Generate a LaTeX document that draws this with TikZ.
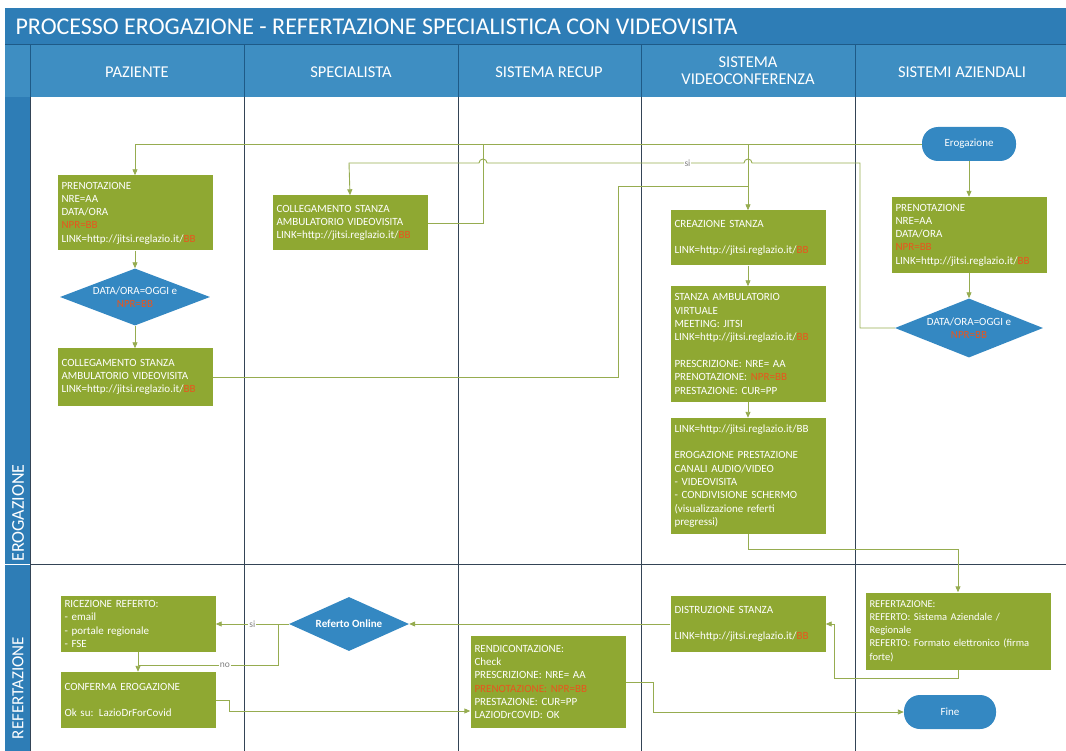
\documentclass[tikz,border=0pt]{standalone}
\usepackage{fontspec}
\setmainfont{Carlito}
\usetikzlibrary{positioning,calc,shapes.geometric,arrows.meta}

\definecolor{titleblue}{RGB}{46,125,182}
\definecolor{headblue}{RGB}{62,142,194}
\definecolor{headline}{RGB}{30,90,135}
\definecolor{laneline}{RGB}{52,68,86}
\definecolor{boxgreen}{RGB}{143,168,50}
\definecolor{flowgreen}{RGB}{150,172,80}
\definecolor{decblue}{RGB}{52,136,194}
\definecolor{nprred}{RGB}{232,86,30}

\newcommand{\npr}[1]{\textcolor{nprred}{#1}}

\tikzset{
  act/.style={rectangle, fill=boxgreen, text=white, align=left, inner sep=4pt,
    text width=147pt, font=\fontsize{11}{13.3}\selectfont},
  dec/.style={diamond, aspect=2.6, fill=decblue, text=white, align=center, inner sep=0pt,
    font=\fontsize{11}{13}\selectfont},
  term/.style={rectangle, rounded corners=16pt, fill=decblue, text=white,
    minimum width=94pt, minimum height=34pt, font=\fontsize{11}{12}\selectfont},
  flow/.style={draw=flowgreen, line width=0.9pt, -{Triangle[length=6pt,width=5pt]}},
  link/.style={draw=flowgreen, line width=0.9pt},
  lbl/.style={fill=white, text=gray, inner sep=1pt, font=\fontsize{9.5}{10}\selectfont},
  lane/.style={draw=laneline, line width=0.8pt},
  lanehead/.style={text=white, align=center, font=\fontsize{16.5}{17}\selectfont}
}

\begin{document}
\begin{tikzpicture}[x=1pt,y=-1pt]

  \useasboundingbox (0,0) rectangle (1066,751);
  \clip (0,0) rectangle (1066,751);

  % title and lane headers
  \fill[titleblue] (5,8) rectangle (1066,45);
  \fill[headblue] (5,45) rectangle (1066,97);
  \draw[headline, line width=1pt] (5,45) -- (1066,45);
  \foreach \x in {30,244,458,641,855}
    \draw[headline, line width=1pt] (\x,45) -- (\x,97);
  \fill[titleblue] (5,97) rectangle (30,751);
  \draw[white, line width=1pt] (5,564) -- (30,564);

  \node[anchor=west, text=white, font=\fontsize{24}{25}\selectfont] (title) at (12,27)
    {PROCESSO EROGAZIONE - REFERTAZIONE SPECIALISTICA CON VIDEOVISITA};

  \node[lanehead] (hpaz)  at (137,72) {PAZIENTE};
  \node[lanehead] (hspec) at (351,72) {SPECIALISTA};
  \node[lanehead] (hrec)  at (549,72) {SISTEMA RECUP};
  \node[lanehead] (hvid)  at (748,71) {SISTEMA\\VIDEOCONFERENZA};
  \node[lanehead] (haz)   at (962,72) {SISTEMI AZIENDALI};

  \node[rotate=90, text=white, font=\fontsize{18}{19}\selectfont] (lerog) at (18,513) {EROGAZIONE};
  \node[rotate=90, text=white, font=\fontsize{17}{18}\selectfont] (lref) at (18,688) {REFERTAZIONE};

  % lanes
  \foreach \x in {244,458,641,855}
    \draw[lane] (\x,97) -- (\x,751);
  \draw[lane] (30,97) -- (30,751);
  \draw[lane] (30,564) -- (1066,564);

  % erogazione
  \node[term] (start) at (969,144) {Erogazione};
  \node[act, minimum height=76pt] (prenaz) at (969,235)
    {PRENOTAZIONE\\NRE=AA\\DATA/ORA\\\npr{NPR=BB}\\LINK=http://jitsi.reglazio.it/\npr{BB}};
  \node[dec, minimum width=148pt, minimum height=59pt] (chkaz) at (969,328)
    {DATA/ORA=OGGI e\\\npr{NPR=BB}};

  \node[act, minimum height=75pt] (pren) at (135,213)
    {PRENOTAZIONE\\NRE=AA\\DATA/ORA\\\npr{NPR=BB}\\LINK=http://jitsi.reglazio.it/\npr{BB}};
  \node[dec, minimum width=150pt, minimum height=57pt] (chkpaz) at (135,297)
    {DATA/ORA=OGGI e\\\npr{NPR=BB}};
  \node[act, minimum height=57pt] (collpaz) at (135,377)
    {COLLEGAMENTO STANZA\\AMBULATORIO VIDEOVISITA\\LINK=http://jitsi.reglazio.it/\npr{BB}};

  \node[act, minimum height=55pt] (collspec) at (350,223)
    {COLLEGAMENTO STANZA\\AMBULATORIO VIDEOVISITA\\LINK=http://jitsi.reglazio.it/\npr{BB}};

  \node[act, minimum height=55pt] (creaz) at (748,238)
    {CREAZIONE STANZA\\\mbox{}\\LINK=http://jitsi.reglazio.it/\npr{BB}};
  \node[act, minimum height=115pt] (stanza) at (748,344)
    {STANZA AMBULATORIO\\VIRTUALE\\MEETING: JITSI\\LINK=http://jitsi.reglazio.it/\npr{BB}\\\mbox{}\\
     PRESCRIZIONE: NRE= AA\\PRENOTAZIONE: \npr{NPR=BB}\\PRESTAZIONE: CUR=PP};
  \node[act, minimum height=116pt] (eroga) at (748,476)
    {LINK=http://jitsi.reglazio.it/BB\\\mbox{}\\EROGAZIONE PRESTAZIONE\\CANALI AUDIO/VIDEO\\
     - VIDEOVISITA\\- CONDIVISIONE SCHERMO\\(visualizzazione referti\\pregressi)};

  % refertazione
  \node[act, minimum height=56pt] (ricez) at (138,624)
    {RICEZIONE REFERTO:\\- email\\- portale regionale\\- FSE};
  \node[act, minimum height=56pt] (conf) at (138,700)
    {CONFERMA EROGAZIONE\\\mbox{}\\Ok su: LazioDrForCovid};
  \node[dec, minimum width=120pt, minimum height=54pt, font=\fontsize{11}{12}\selectfont\bfseries] (online) at (349,624)
    {Referto Online};
  \node[act, minimum height=92pt] (rend) at (548,682)
    {RENDICONTAZIONE:\\Check\\PRESCRIZIONE: NRE= AA\\\npr{PRENOTAZIONE: NPR=BB}\\PRESTAZIONE: CUR=PP\\LAZIODrCOVID: OK};
  \node[act, minimum height=56pt] (distr) at (748,624)
    {DISTRUZIONE STANZA\\\mbox{}\\LINK=http://jitsi.reglazio.it/\npr{BB}};
  \node[act, text width=177pt, minimum height=77pt, font=\fontsize{10.5}{13.3}\selectfont] (refert) at (958,631)
    {REFERTAZIONE:\\REFERTO: Sistema Aziendale /\\Regionale\\REFERTO: Formato elettronico (firma\\forte)};
  \node[term, minimum width=92pt] (fine) at (950,712) {Fine};

  % connectors
  \draw[flow] (start.west) -| (pren.north);
  \draw[flow] (pren) -- (chkpaz);
  \draw[flow] (chkpaz) -- (collpaz);
  \draw[flow] (start) -- (prenaz);
  \draw[flow] (prenaz) -- (chkaz);
  \draw[flow] (collspec.east) -| (483,144) -| (creaz.north);
  \draw[link] (collpaz.east) -| (618,186) -- (748,186);
  \draw[flow] (chkaz.west) -- (860,328) -- (860,163) -- (752,163) arc (0:-180:4)
    -- node[lbl, pos=0.22] {si} (487,163) arc (0:-180:4) -- (349,163) -- (collspec.north);
  \draw[flow] (creaz) -- (stanza);
  \draw[flow] (stanza) -- (eroga);
  \draw[flow] (eroga.south) -- ++(0,15) -| (refert.north);
  \draw[flow] (refert.south) -- ++(0,9) -| (834,624) -- (distr.east);
  \draw[flow] (distr) -- (online);
  \draw[flow] (online.west) -- node[lbl] {si} (ricez.east);
  \draw[link] (ricez.south) -- (138,665);
  \draw[flow] (online.west) -| (278,665) -- node[lbl, pos=0.38] {no} (138,665) -- (conf.north);
  \draw[flow] (conf.east) -- ++(14,0) |- ([yshift=-29pt]rend.west);
  \draw[flow] (rend.east) -- ++(28,0) |- (fine.west);

\end{tikzpicture}
\end{document}
